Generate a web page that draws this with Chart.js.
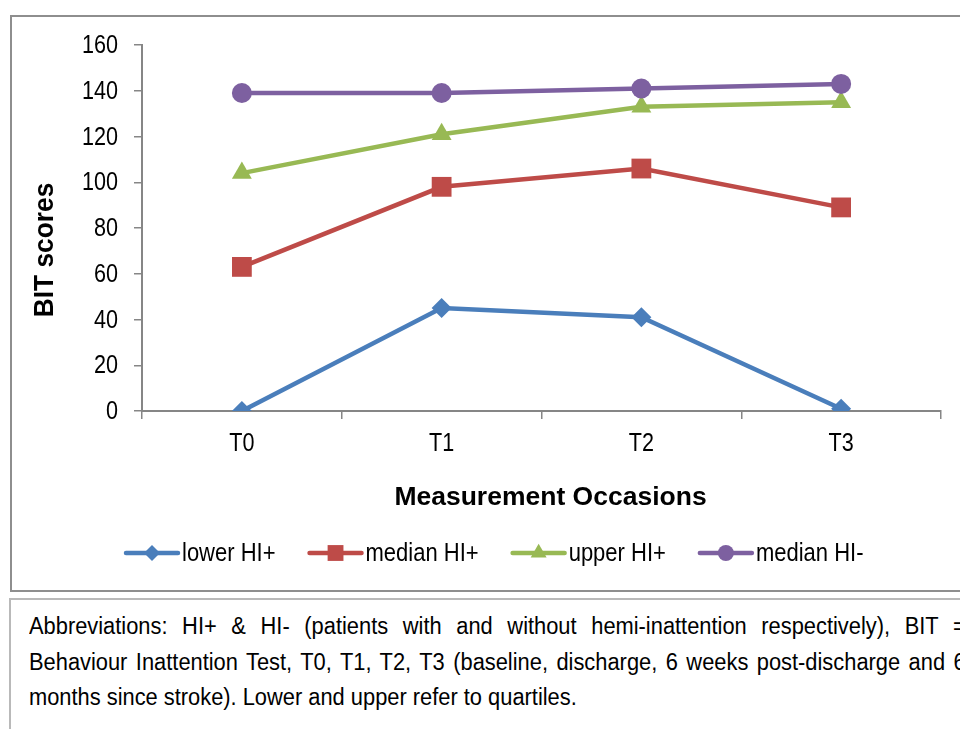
<!DOCTYPE html>
<html>
<head>
<meta charset="utf-8">
<script src="https://cdn.jsdelivr.net/npm/chart.js@4/dist/chart.umd.min.js"></script>
<style>
  html, body { margin: 0; padding: 0; background: #fff; width: 960px; height: 729px; overflow: hidden; }
  .frame { position: absolute; box-sizing: border-box; }
  #chartFrame { left: 10px; top: 15px; width: 980px; height: 577px; border: 2px solid #8e8e8e; }
  #noteFrame { left: 9px; top: 598px; width: 990px; height: 200px; border: 2px solid #b9b9b9; }
  #note { position: absolute; left: 29px; top: 609px; width: 986px;
          transform: scaleX(0.95); transform-origin: 0 0;
          font-family: "Liberation Sans", Arial, sans-serif;
          font-size: 23px; line-height: 35.5px; color: #000; }
  #note div { text-align: justify; text-align-last: justify; white-space: nowrap; }
  #note div.last { text-align-last: left; }
  #wrap { position: absolute; left: 0; top: 0; width: 960px; height: 729px; }
</style>
</head>
<body>
<div class="frame" id="chartFrame"></div>
<div class="frame" id="noteFrame"></div>
<div id="note">
  <div>Abbreviations: HI+ &amp; HI- (patients with and without hemi-inattention respectively), BIT =</div>
  <div>Behaviour Inattention Test, T0, T1, T2, T3 (baseline, discharge, 6 weeks post-discharge and 6</div>
  <div class="last">months since stroke). Lower and upper refer to quartiles.</div>
</div>
<div id="wrap"><canvas id="c" width="960" height="729"></canvas></div>
<script>
// Measurement occasions and BIT scores per group
const occasions = ['T0', 'T1', 'T2', 'T3'];
const lowerHIplus = [0, 45, 41, 1];
const medianHIplus = [63, 98, 106, 89];
const upperHIplus = [104, 121, 133, 135];
const medianHIminus = [139, 139, 141, 143];
const seriesNames = ['lower HI+', 'median HI+', 'upper HI+', 'median HI-'];
const yTickValues = [0, 20, 40, 60, 80, 100, 120, 140, 160];
const yAxisTitle = 'BIT scores';
const xAxisTitle = 'Measurement Occasions';

const FONT = '"Liberation Sans", Arial, sans-serif';
const NARROW = 0.83;            // horizontal squeeze giving a condensed face
const AXIS_GREY = '#868686';

const styles = [
  { color: '#4A7EBB', point: 'rectRot', radius: 10 },
  { color: '#BE4B48', point: 'rect', radius: 14 },
  { color: '#98B954', point: 'triangle', radius: 11.5 },
  { color: '#7D60A0', point: 'circle', radius: 10 }
];
const values = [lowerHIplus, medianHIplus, upperHIplus, medianHIminus];

const datasets = values.map((v, i) => ({
  label: seriesNames[i],
  data: v,
  borderColor: styles[i].color,
  backgroundColor: styles[i].color,
  pointBackgroundColor: styles[i].color,
  pointBorderColor: styles[i].color,
  pointBorderWidth: 0,
  pointStyle: styles[i].point,
  pointRadius: styles[i].radius,
  pointHoverRadius: styles[i].radius,
  borderWidth: 4.5,
  tension: 0,
  order: values.length - i
}));

// draw text squeezed horizontally around its anchor
function narrowText(ctx, text, x, y, align, squeeze) {
  ctx.save();
  ctx.translate(x, y);
  ctx.scale(squeeze, 1);
  ctx.textAlign = align;
  ctx.fillText(text, 0, 0);
  ctx.restore();
}

// Tick labels for both scales, in a condensed face
const tickLabels = {
  id: 'tickLabels',
  afterDraw(chart) {
    const ctx = chart.ctx;
    const xs = chart.scales.x, ys = chart.scales.y;
    ctx.save();
    ctx.fillStyle = '#000';
    ctx.font = '26px ' + FONT;
    ctx.textBaseline = 'middle';
    ys.ticks.forEach((t) => {
      narrowText(ctx, String(t.value), xs.left - 24, ys.getPixelForValue(t.value) + 1, 'right', NARROW);
    });
    xs.ticks.forEach((t, i) => {
      narrowText(ctx, occasions[i], xs.getPixelForTick(i), ys.bottom + 33, 'center', NARROW);
    });
    ctx.restore();
  }
};

// Legend entries drawn as a line segment with the series marker in the middle
const lineLegend = {
  id: 'lineLegend',
  afterDraw(chart) {
    const ctx = chart.ctx;
    const y = 553;
    const squeeze = 0.88;
    let x = 124;
    ctx.save();
    ctx.font = '25px ' + FONT;
    ctx.textBaseline = 'middle';
    chart.data.datasets.forEach((ds) => {
      const segLen = 56;
      ctx.strokeStyle = ds.borderColor;
      ctx.lineWidth = 4.5;
      ctx.lineCap = 'round';
      ctx.beginPath();
      ctx.moveTo(x + 2, y);
      ctx.lineTo(x + segLen - 2, y);
      ctx.stroke();
      ctx.fillStyle = ds.pointBackgroundColor;
      Chart.helpers.drawPoint(ctx, {
        pointStyle: ds.pointStyle,
        radius: ds.pointRadius * 0.8,
        rotation: 0,
        borderWidth: 0
      }, x + segLen / 2, y);
      ctx.fillStyle = '#000';
      const tx = x + segLen + 2;
      narrowText(ctx, ds.label, tx, y + 1, 'left', squeeze);
      x = tx + ctx.measureText(ds.label).width * squeeze + 32;
    });
    ctx.restore();
  }
};

// Axis titles placed beside the plot
const axisTitles = {
  id: 'axisTitles',
  afterDraw(chart) {
    const ctx = chart.ctx;
    const area = chart.chartArea;
    ctx.save();
    ctx.fillStyle = '#000';
    ctx.textBaseline = 'alphabetic';
    ctx.font = 'bold 25px ' + FONT;
    narrowText(ctx, xAxisTitle, (area.left + area.right) / 2 + 9, 505, 'center', 1.06);
    ctx.translate(53, 250);
    ctx.rotate(-Math.PI / 2);
    ctx.font = 'bold 28px ' + FONT;
    narrowText(ctx, yAxisTitle, 0, 0, 'center', 0.94);
    ctx.restore();
  }
};

new Chart(document.getElementById('c'), {
  type: 'line',
  data: { labels: occasions, datasets: datasets },
  options: {
    responsive: false,
    animation: false,
    events: [],
    layout: { padding: { left: 0, top: 45, right: 19, bottom: 0 } },
    plugins: { legend: { display: false }, tooltip: { enabled: false } },
    scales: {
      x: {
        offset: true,
        grid: { display: true, offset: true, drawOnChartArea: false, drawTicks: true, tickLength: 8, color: AXIS_GREY, lineWidth: 1.5 },
        border: { display: true, color: AXIS_GREY, width: 2 },
        ticks: { display: false },
        afterFit(scale) { scale.height = 318; }
      },
      y: {
        min: 0,
        max: 160,
        afterBuildTicks(scale) { scale.ticks = yTickValues.map(v => ({ value: v })); },
        grid: { display: true, drawOnChartArea: false, drawTicks: true, tickLength: 8, color: AXIS_GREY, lineWidth: 1.5 },
        border: { display: true, color: AXIS_GREY, width: 2 },
        ticks: { display: false },
        afterFit(scale) { scale.width = 142; }
      }
    }
  },
  plugins: [tickLabels, lineLegend, axisTitles]
});
</script>
</body>
</html>
